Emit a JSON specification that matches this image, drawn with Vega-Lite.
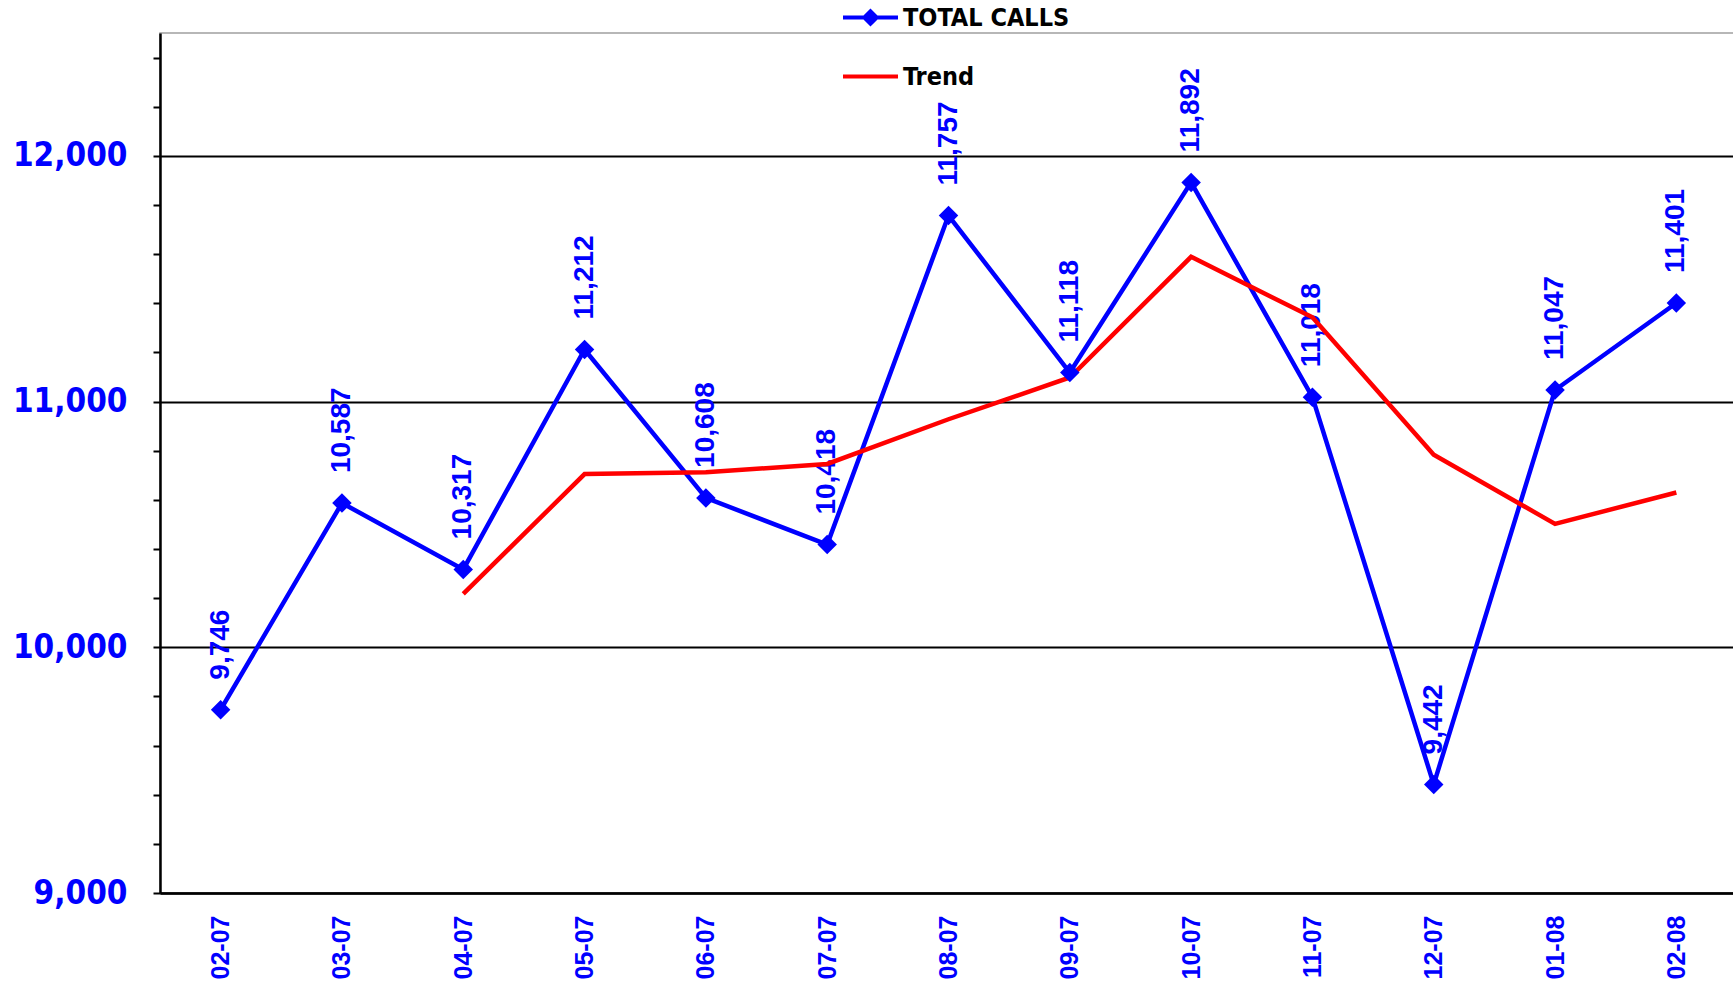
{
  "$schema": "https://vega.github.io/schema/vega-lite/v6.json",
  "autosize": {"type": "none"},
  "padding": {"left": 160, "top": 33, "right": 0, "bottom": 93},
  "width": 1577,
  "height": 860,
  "background": "white",
  "config": {"view": {"stroke": "#a0a0a0", "strokeWidth": 1.5}},
  "data": {"values": [
    {"month": "02-07", "series": "TOTAL CALLS", "value": 9746},
    {"month": "03-07", "series": "TOTAL CALLS", "value": 10587},
    {"month": "04-07", "series": "TOTAL CALLS", "value": 10317},
    {"month": "05-07", "series": "TOTAL CALLS", "value": 11212},
    {"month": "06-07", "series": "TOTAL CALLS", "value": 10608},
    {"month": "07-07", "series": "TOTAL CALLS", "value": 10418},
    {"month": "08-07", "series": "TOTAL CALLS", "value": 11757},
    {"month": "09-07", "series": "TOTAL CALLS", "value": 11118},
    {"month": "10-07", "series": "TOTAL CALLS", "value": 11892},
    {"month": "11-07", "series": "TOTAL CALLS", "value": 11018},
    {"month": "12-07", "series": "TOTAL CALLS", "value": 9442},
    {"month": "01-08", "series": "TOTAL CALLS", "value": 11047},
    {"month": "02-08", "series": "TOTAL CALLS", "value": 11401},
    {"month": "04-07", "series": "Trend", "value": 10217},
    {"month": "05-07", "series": "Trend", "value": 10705},
    {"month": "06-07", "series": "Trend", "value": 10712},
    {"month": "07-07", "series": "Trend", "value": 10746},
    {"month": "08-07", "series": "Trend", "value": 10928},
    {"month": "09-07", "series": "Trend", "value": 11098},
    {"month": "10-07", "series": "Trend", "value": 11589},
    {"month": "11-07", "series": "Trend", "value": 11343},
    {"month": "12-07", "series": "Trend", "value": 10784},
    {"month": "01-08", "series": "Trend", "value": 10502},
    {"month": "02-08", "series": "Trend", "value": 10630}
  ]},
  "encoding": {
    "x": {
      "field": "month", "type": "ordinal", "sort": null,
      "scale": {"type": "point", "padding": 0.5},
      "axis": {
        "title": null, "labelAngle": -90, "labelAlign": "right", "labelBaseline": "middle",
        "labelFont": "Liberation Sans", "labelFontWeight": "bold", "labelFontSize": 25,
        "labelColor": "#0000ff", "labelPadding": 22, "ticks": false,
        "domainColor": "black", "domainWidth": 2.5, "grid": false
      }
    },
    "y": {
      "field": "value", "type": "quantitative",
      "scale": {"domain": [9000, 12500], "nice": false, "zero": false},
      "axis": {
        "title": null,
        "values": [9000, 9200, 9400, 9600, 9800, 10000, 10200, 10400, 10600, 10800, 11000, 11200, 11400, 11600, 11800, 12000, 12200, 12400],
        "labelExpr": "datum.value % 1000 === 0 ? format(datum.value, ',') : ''",
        "labelFont": "DejaVu Sans Condensed", "labelFontWeight": "bold", "labelFontSize": 33,
        "labelColor": "#0000ff", "labelPadding": 26,
        "tickColor": "black", "tickWidth": 2, "tickSize": 7,
        "domainColor": "black", "domainWidth": 2.5,
        "grid": true, "gridColor": "black", "gridWidth": 2,
        "gridOpacity": {"condition": {"test": "datum.value % 1000 === 0", "value": 1}, "value": 0}
      }
    }
  },
  "layer": [
    {
      "transform": [{"filter": "datum.series === 'TOTAL CALLS'"}],
      "mark": {"type": "text", "angle": 270, "align": "left", "baseline": "middle", "dx": 30,
               "font": "Liberation Sans", "fontWeight": "bold", "fontSize": 28, "color": "#0000ff"},
      "encoding": {"text": {"field": "value", "type": "quantitative", "format": ","}}
    },
    {
      "mark": {"type": "line", "strokeWidth": 4.5},
      "encoding": {
        "color": {
          "field": "series", "type": "nominal",
          "scale": {"domain": ["TOTAL CALLS", "Trend"], "range": ["#0000ff", "#ff0000"]},
          "legend": {
            "orient": "none", "direction": "vertical", "legendX": 683, "legendY": -43,
            "title": null, "labelFont": "DejaVu Sans Condensed", "labelFontWeight": "bold",
            "labelFontSize": 25, "labelColor": "black", "labelLimit": 500, "symbolSize": 3025,
            "rowPadding": 18, "labelOffset": 5,
            "encode": {"symbols": {"update": {
              "shape": {"signal": "datum.value === 'Trend' ? 'M-1,-0.075L1,-0.075L1,0.075L-1,0.075Z' : 'M-1,-0.075L-0.255,-0.075L0,-0.33L0.255,-0.075L1,-0.075L1,0.075L0.255,0.075L0,0.33L-0.255,0.075L-1,0.075Z'"},
              "fill": {"signal": "datum.value === 'Trend' ? '#ff0000' : '#0000ff'"},
              "strokeWidth": {"value": 0},
              "opacity": {"value": 1}
            }}}
          }
        }
      }
    },
    {
      "transform": [{"filter": "datum.series === 'TOTAL CALLS'"}],
      "mark": {"type": "point", "shape": "diamond", "filled": true, "size": 380, "opacity": 1, "color": "#0000ff"}
    }
  ]
}
